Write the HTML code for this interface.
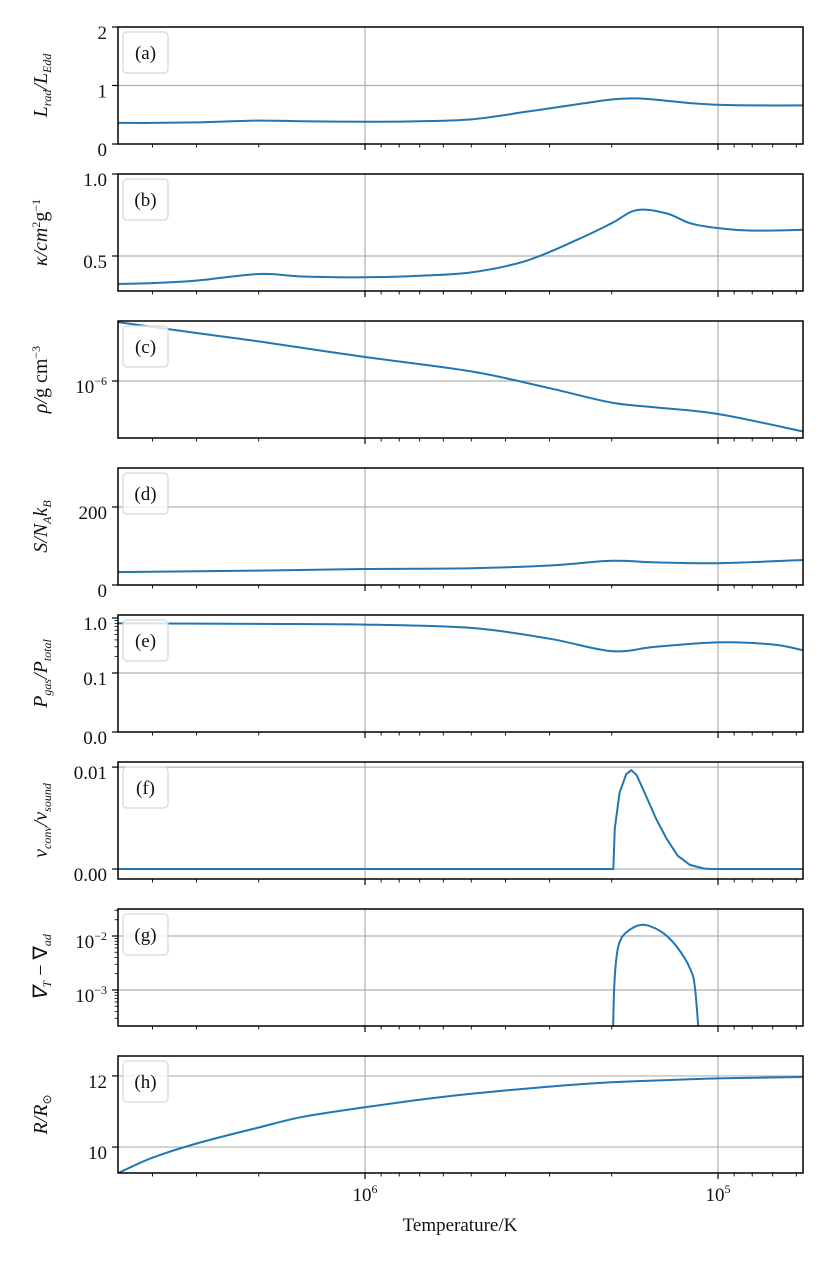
<!DOCTYPE html>
<html><head><meta charset="utf-8">
<style>
html,body{margin:0;padding:0;background:#fff;}
svg{display:block;font-family:"Liberation Serif",serif;}
</style></head>
<body>
<svg id="fig" width="830" height="1263" viewBox="0 0 830 1263" xmlns="http://www.w3.org/2000/svg"></svg>
<script>
// ---- data ----
const T_main = [5e6,4e6,3e6,2e6,1.5e6,1e6,7e5,5e5,3.5e5,2.5e5,2e5,1.7e5,1.4e5,1.2e5,1e5,8e4,5.75e4];
const L_rad = [0.36,0.36,0.37,0.40,0.39,0.38,0.39,0.42,0.55,0.68,0.76,0.78,0.74,0.70,0.67,0.66,0.66];
const kappa = [0.33,0.335,0.35,0.39,0.375,0.37,0.38,0.40,0.47,0.60,0.70,0.78,0.76,0.70,0.67,0.655,0.66];
const T_rho = [5e6,3e6,2e6,1e6,5e5,3e5,2e5,1.5e5,1e5,5.75e4];
const log_rho = [-5.51,-5.6,-5.67,-5.8,-5.92,-6.06,-6.18,-6.22,-6.275,-6.42];
const T_S = [5e6,2e6,1e6,5e5,3e5,2e5,1.5e5,1e5,5.75e4];
const entropy = [33,37,41,43,50,62,58,56,64];
const T_P = [5e6,2e6,1e6,5e5,3e5,2e5,1.5e5,1e5,7e4,5.75e4];
const Pgas = [0.80,0.78,0.76,0.66,0.42,0.25,0.30,0.36,0.33,0.26];
const T_v = [5e6,2e6,1e6,5e5,3e5,2.1e5,2.0e5,1.98e5,1.96e5,1.9e5,1.82e5,1.76e5,1.7e5,1.6e5,1.5e5,1.4e5,1.3e5,1.2e5,1.1e5,1.05e5,1e5,8e4,5.75e4];
const vconv = [0,0,0,0,0,0,0,0,0.004,0.0075,0.0093,0.0097,0.0092,0.0072,0.005,0.003,0.0013,0.0004,0.00005,0,0,0,0];
const T_g = [1.99e5,1.97e5,1.93e5,1.87e5,1.78e5,1.66e5,1.55e5,1.42e5,1.3e5,1.2e5,1.16e5,1.12e5];
const gradDiff = [5e-5,1e-3,5e-3,0.0095,0.013,0.016,0.015,0.011,0.006,0.0025,0.001,5e-5];
const T_R = [5e6,4e6,3e6,2e6,1.5e6,1e6,7e5,5e5,3e5,2e5,1.5e5,1e5,5.75e4];
const radius = [9.27,9.7,10.1,10.55,10.85,11.12,11.33,11.5,11.7,11.82,11.87,11.93,11.97];

const NS="http://www.w3.org/2000/svg";
const svg=document.getElementById('fig');
const X0=118,X1=803;
function xs(T){return 365+(6-Math.log10(T))*353;}
function mk(tag,attrs,parent){const e=document.createElementNS(NS,tag);for(const k in attrs)e.setAttribute(k,attrs[k]);(parent||svg).appendChild(e);return e;}
function smooth(P){
  let d='M'+P[0][0].toFixed(1)+','+P[0][1].toFixed(1);
  for(let i=0;i<P.length-1;i++){
    const p0=P[i-1]||P[i],p1=P[i],p2=P[i+1],p3=P[i+2]||P[i+1];
    const c1=[p1[0]+(p2[0]-p0[0])/6,p1[1]+(p2[1]-p0[1])/6];
    const c2=[p2[0]-(p3[0]-p1[0])/6,p2[1]-(p3[1]-p1[1])/6];
    d+=' C'+c1.map(v=>v.toFixed(1))+' '+c2.map(v=>v.toFixed(1))+' '+p2.map(v=>v.toFixed(1));
  }
  return d;
}
function linear(P){return 'M'+P.map(p=>p[0].toFixed(1)+','+p[1].toFixed(1)).join(' L');}

const panels=[
 {key:'a',top:27,T:T_main,v:L_rad,map:v=>v,lo:0,hi:2,ticks:[[0,'0'],[1,'1'],[2,'2']],grid:[1],title:'L<tspan font-size="12" dy="4">rad</tspan><tspan dy="-4">/L</tspan><tspan font-size="12" dy="4">Edd</tspan>'},
 {key:'b',top:174,T:T_main,v:kappa,map:v=>v,lo:0.2866,hi:1.0,ticks:[[0.5,'0.5'],[1.0,'1.0']],grid:[0.5],title:'κ/cm<tspan font-size="12" dy="-7" font-style="normal">2</tspan><tspan dy="7" font-style="normal">g</tspan><tspan font-size="12" dy="-7" font-style="normal">−1</tspan>'},
 {key:'c',top:321,T:T_rho,v:log_rho,map:v=>v,lo:-6.475,hi:-5.5,ticks:[[-6,'10<tspan font-size="12" dy="-8">−6</tspan>']],grid:[-6],title:'ρ/<tspan font-style="normal">g cm</tspan><tspan font-size="12" dy="-7" font-style="normal">−3</tspan>'},
 {key:'d',top:468,T:T_S,v:entropy,map:v=>v,lo:0,hi:300,ticks:[[0,'0'],[200,'200']],grid:[200],title:'S/N<tspan font-size="12" dy="4">A</tspan><tspan dy="-4">k</tspan><tspan font-size="12" dy="4">B</tspan>'},
 {key:'e',top:615,T:T_P,v:Pgas,map:v=>v>=0.1?Math.log10(v):(v/0.1-1)*(59/55),lo:-2.0727,hi:0.0545,ticks:[[0,'1.0'],[-1,'0.1'],[-2.0727,'0.0']],grid:[-1],title:'P<tspan font-size="12" dy="4">gas</tspan><tspan dy="-4">/P</tspan><tspan font-size="12" dy="4">total</tspan>',minor:'e'},
 {key:'f',top:762,T:T_v,v:vconv,map:v=>v,lo:-0.00098,hi:0.0105,ticks:[[0,'0.00'],[0.01,'0.01']],grid:[0,0.01],title:'v<tspan font-size="12" dy="4">conv</tspan><tspan dy="-4">/v</tspan><tspan font-size="12" dy="4">sound</tspan>',lin:true},
 {key:'g',top:909,T:T_g,v:gradDiff,map:v=>Math.log10(v),lo:-3.667,hi:-1.5,ticks:[[-2,'10<tspan font-size="12" dy="-8">−2</tspan>'],[-3,'10<tspan font-size="12" dy="-8">−3</tspan>']],grid:[-2,-3],title:'∇<tspan font-size="12" dy="4">T</tspan><tspan dy="-4" font-style="normal"> − ∇</tspan><tspan font-size="12" dy="4">ad</tspan>',minor:'g'},
 {key:'h',top:1056,T:T_R,v:radius,map:v=>v,lo:9.27,hi:12.56,ticks:[[10,'10'],[12,'12']],grid:[10,12],title:'R/R<tspan font-size="12" dy="4" font-style="normal">⊙</tspan>'}
];
const H=117;
const minorT=[4e6,3e6,2e6,9e5,8e5,7e5,6e5,5e5,4e5,3e5,2e5,9e4,8e4,7e4,6e4];

panels.forEach((p,i)=>{
  const g=mk('g',{});
  
  
  const ys=v=>p.top+H-(v-p.lo)/(p.hi-p.lo)*H;
  const defs=mk('clipPath',{id:'clip'+p.key},g);
  mk('rect',{x:X0,y:p.top,width:X1-X0,height:H},defs);
  [1e6,1e5].forEach(T=>{const l=mk('line',{x1:xs(T),x2:xs(T),y1:p.top,y2:p.top+H,stroke:'#b0b0b0','stroke-width':1.2},g);});
  p.grid.forEach(v=>{const l=mk('line',{x1:X0,x2:X1,y1:ys(v),y2:ys(v),stroke:'#b0b0b0','stroke-width':1.2},g);});
  const P=p.T.map((T,j)=>[xs(T),ys(p.map(p.v[j]))]);
  const line=mk('path',{d:p.lin?linear(P):smooth(P),fill:'none',stroke:'#1f77b4','stroke-width':2,'stroke-linejoin':'round','clip-path':'url(#clip'+p.key+')'},g);
  
  
  const fr=mk('rect',{x:X0,y:p.top,width:X1-X0,height:H,fill:'none',stroke:'#000','stroke-width':1.5},g);
  
  
  [1e6,1e5].forEach(T=>mk('line',{x1:xs(T),x2:xs(T),y1:p.top+H,y2:p.top+H+6,stroke:'#000','stroke-width':1.2},g));
  minorT.forEach(T=>{const x=xs(T);if(x>X0&&x<X1)mk('line',{x1:x,x2:x,y1:p.top+H,y2:p.top+H+3.5,stroke:'#000','stroke-width':0.9},g);});
  p.ticks.forEach(([v,lab])=>{
    const y=ys(v);
    mk('line',{x1:X0-6,x2:X0,y1:y,y2:y,stroke:'#000','stroke-width':1.2},g);
    const t=mk('text',{x:X0-11,y:y+12,'text-anchor':'end','font-size':19,fill:'#111'},g);
    t.innerHTML=lab;
    
    
  });
  if(p.minor==='e'){[2,3,4,5,6,7,8,9].forEach(m=>{const y=ys(Math.log10(m/10));mk('line',{x1:X0-3.5,x2:X0,y1:y,y2:y,stroke:'#000','stroke-width':0.8},g);});}
  if(p.minor==='g'){[-4,-3,-2].forEach(d=>[2,3,4,5,6,7,8,9].forEach(m=>{const v=d+Math.log10(m);if(v>p.lo&&v<p.hi){const y=ys(v);mk('line',{x1:X0-3.5,x2:X0,y1:y,y2:y,stroke:'#000','stroke-width':0.8},g);}}));}
  const lb=mk('rect',{x:123,y:p.top+5,width:45,height:41,rx:4,fill:'#fff','fill-opacity':0.8,stroke:'#d6d6d6','stroke-width':1.2},g);
  
  
  const lt=mk('text',{x:145.5,y:p.top+32,'text-anchor':'middle','font-size':19,fill:'#111'},g);
  lt.textContent='('+p.key+')';
  
  
  const cy=p.top+H/2;
  const yt=mk('text',{x:0,y:0,transform:'translate(47,'+cy+') rotate(-90)','text-anchor':'middle','font-size':20,'font-style':'italic',fill:'#111'},g);
  yt.innerHTML=p.title;
  
  
});
[[1e6,'6'],[1e5,'5']].forEach(([T,e])=>{
  const t=mk('text',{x:xs(T),y:1201,'text-anchor':'middle','font-size':19,fill:'#111'});
  t.innerHTML='10<tspan font-size="12" dy="-8">'+e+'</tspan>';
  
  
});
const xt=mk('text',{x:460,y:1231,'text-anchor':'middle','font-size':19,fill:'#111'});
xt.textContent='Temperature/K';


</script>
</body></html>
